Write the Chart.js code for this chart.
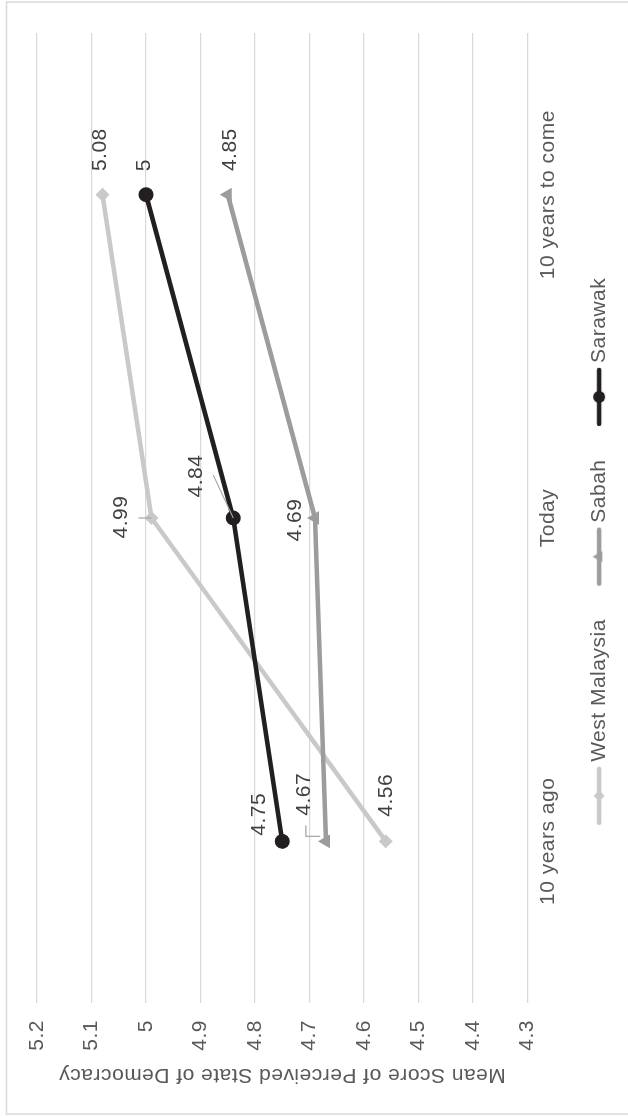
<!DOCTYPE html>
<html>
<head>
<meta charset="utf-8">
<script src="https://cdn.jsdelivr.net/npm/chart.js@4/dist/chart.umd.min.js"></script>
<style>
  html, body { margin: 0; padding: 0; background: #fff; overflow: hidden; width: 628px; height: 1116px; }
  /* the chart is laid out landscape and turned a quarter turn counter-clockwise */
  #turn { position: absolute; left: 0; top: 1116px; width: 1116px; height: 628px;
          transform-origin: 0 0; transform: rotate(-90deg); }
</style>
</head>
<body>
<div id="turn"><canvas id="c" width="1116" height="628"></canvas></div>
<script>
// ---- data ----
const categories = ['10 years ago', 'Today', '10 years to come'];
const seriesNames = ['West Malaysia', 'Sabah', 'Sarawak'];
const westMalaysia = [4.56, 4.99, 5.08];
const sabah = [4.67, 4.69, 4.85];
const sarawak = [4.75, 4.84, 5.00];
const yMin = 4.3;
const yMax = 5.2;
const yStep = 0.1;
const yTitle = 'Mean Score of Perceived State of Democracy';

// ---- styling ----
const FONT = "'Liberation Sans', Arial, Helvetica, sans-serif";
const TEXT = '#595959';
const LABEL_TEXT = '#404040';
const GRID = '#d9d9d9';
const colors = ['#c9c9c9', '#9c9c9e', '#231f20'];
const markers = ['rectRot', 'triangle', 'circle'];
const markerRadius = [7, 8, 7.5];

// value label placement relative to each point (canvas px)
const labelOffsets = [
  [[46, 0], [1, -30], [45, -2]],
  [[47, -22], [-2, -20], [45, 2]],
  [[27, -23], [42, -37], [29.5, -1.5]]
];
// leader lines from label to point (canvas px, relative to point)
const leaders = [
  [null, [[0, -13], [0, 0]], null],
  [[[16, -20], [5, -20], [5, -6]], null, null],
  [null, [[43, -20], [0, 0]], null]
];

Chart.defaults.font.family = FONT;
Chart.defaults.font.size = 21;
Chart.defaults.color = TEXT;

// legend symbol: a short line with the series marker in its middle
function legendIcon(color, style, r) {
  const c = document.createElement('canvas');
  c.width = 86; c.height = 20;
  const g = c.getContext('2d');
  g.strokeStyle = color; g.fillStyle = color;
  g.lineWidth = 4.5; g.lineCap = 'round';
  g.beginPath(); g.moveTo(26, 10); g.lineTo(80, 10); g.stroke();
  const x = 53, y = 10;
  g.beginPath();
  if (style === 'circle') {
    g.arc(x, y, r, 0, Math.PI * 2);
  } else if (style === 'triangle') {
    let a = 0;
    g.moveTo(x + Math.sin(a) * r, y - Math.cos(a) * r);
    a += Math.PI * 2 / 3;
    g.lineTo(x + Math.sin(a) * r, y - Math.cos(a) * r);
    a += Math.PI * 2 / 3;
    g.lineTo(x + Math.sin(a) * r, y - Math.cos(a) * r);
    g.closePath();
  } else {
    g.moveTo(x, y - r); g.lineTo(x + r, y); g.lineTo(x, y + r); g.lineTo(x - r, y); g.closePath();
  }
  g.fill();
  return c;
}
const legendIcons = [
  legendIcon(colors[0], 'rectRot', 5.5),
  legendIcon(colors[1], 'triangle', 6.5),
  legendIcon(colors[2], 'circle', 6)
];

const framePlugin = {
  id: 'frame',
  beforeDraw(chart) {
    const ctx = chart.ctx;
    ctx.save();
    ctx.fillStyle = '#fff';
    ctx.fillRect(0, 0, chart.width, chart.height);
    ctx.strokeStyle = GRID;
    ctx.lineWidth = 1.5;
    ctx.strokeRect(2, 6.5, 1112, 700);
    ctx.restore();
    // slightly open lettering for all chart text
    if ('letterSpacing' in ctx) ctx.letterSpacing = '0.5px';
  }
};

const valueLabelPlugin = {
  id: 'valueLabels',
  afterDatasetsDraw(chart) {
    const ctx = chart.ctx;
    ctx.save();
    chart.data.datasets.forEach((ds, i) => {
      const meta = chart.getDatasetMeta(i);
      meta.data.forEach((pt, j) => {
        const lead = leaders[i][j];
        if (lead) {
          ctx.strokeStyle = '#a6a6a6';
          ctx.lineWidth = 1.2;
          ctx.beginPath();
          lead.forEach((p, k) => {
            if (k === 0) ctx.moveTo(pt.x + p[0], pt.y + p[1]);
            else ctx.lineTo(pt.x + p[0], pt.y + p[1]);
          });
          ctx.stroke();
        }
        const off = labelOffsets[i][j];
        ctx.fillStyle = LABEL_TEXT;
        ctx.font = '21px ' + FONT;
        ctx.textAlign = 'center';
        ctx.textBaseline = 'middle';
        ctx.fillText(String(ds.data[j]), pt.x + off[0], pt.y + off[1]);
      });
    });
    ctx.restore();
  }
};

const seriesValues = [westMalaysia, sabah, sarawak];
const datasets = seriesNames.map((name, i) => ({
  label: name,
  data: seriesValues[i],
  borderColor: colors[i],
  backgroundColor: colors[i],
  borderWidth: 4.5,
  borderJoinStyle: 'round',
  borderCapStyle: 'round',
  pointStyle: markers[i],
  pointRadius: markerRadius[i],
  pointHoverRadius: markerRadius[i],
  pointBackgroundColor: colors[i],
  pointBorderColor: colors[i],
  pointBorderWidth: 0,
  tension: 0,
  order: 3 - i
}));

new Chart(document.getElementById('c'), {
  type: 'line',
  data: { labels: categories, datasets },
  plugins: [framePlugin, valueLabelPlugin],
  options: {
    responsive: false,
    animation: false,
    devicePixelRatio: 1,
    layout: { padding: { top: 37, right: 33, bottom: 8.4, left: 19.4 } },
    plugins: {
      tooltip: { enabled: false },
      legend: {
        position: 'bottom',
        reverse: true,
        labels: {
          usePointStyle: true,
          pointStyleWidth: 67,
          boxHeight: 21,
          padding: 19,
          color: TEXT,
          font: { size: 21, family: FONT },
          generateLabels(chart) {
            const items = Chart.defaults.plugins.legend.labels.generateLabels(chart);
            items.forEach(it => { it.pointStyle = legendIcons[it.datasetIndex]; it.fontColor = TEXT; });
            return items;
          }
        }
      }
    },
    scales: {
      x: {
        offset: true,
        grid: { display: false, drawTicks: false },
        border: { display: false },
        ticks: { padding: 8.4, color: TEXT, font: { size: 21 }, maxRotation: 0, autoSkip: false }
      },
      y: {
        min: yMin,
        max: yMax,
        grid: { color: GRID, lineWidth: 1.3, drawTicks: false },
        border: { display: false },
        ticks: {
          stepSize: yStep,
          padding: 17,
          color: TEXT,
          font: { size: 21 },
          callback: v => String(Number(v.toFixed(1)))
        },
        title: {
          display: true,
          text: yTitle,
          color: TEXT,
          font: { size: 21 },
          padding: { top: 9, bottom: 0 }
        },
        afterFit(scale) { scale.width = 93.6; }
      }
    }
  }
});
</script>
</body>
</html>
